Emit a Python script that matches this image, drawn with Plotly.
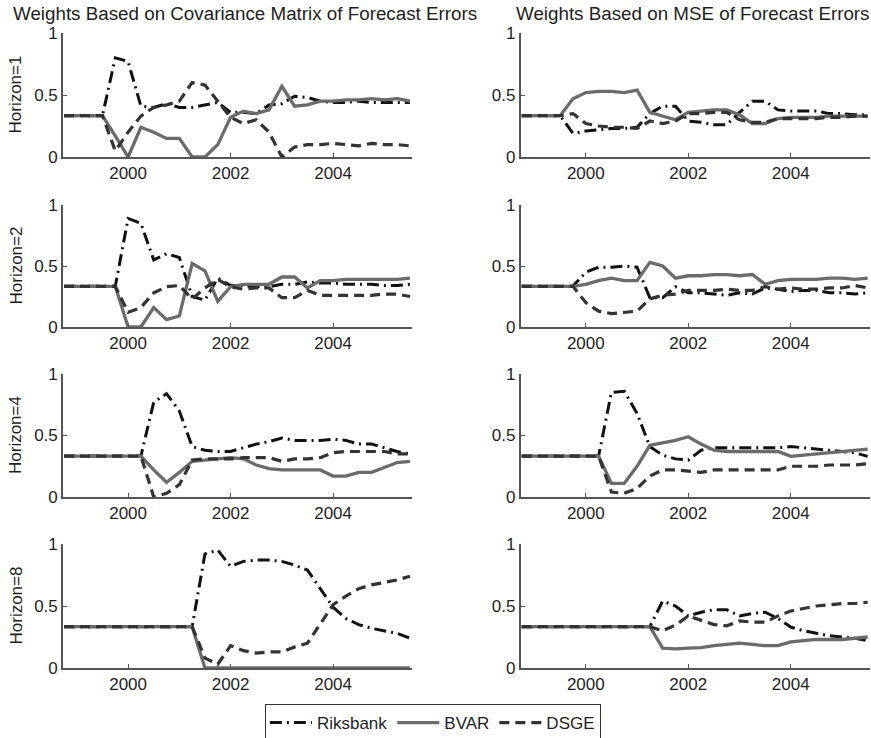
import plotly.graph_objects as go

# Quarterly dates (decimal years)
quarters = [1998.75, 1999.00, 1999.25, 1999.50, 1999.75, 2000.00, 2000.25,
            2000.50, 2000.75, 2001.00, 2001.25, 2001.50, 2001.75, 2002.00,
            2002.25, 2002.50, 2002.75, 2003.00, 2003.25, 2003.50, 2003.75,
            2004.00, 2004.25, 2004.50, 2004.75, 2005.00, 2005.25, 2005.50]

t = 0.333

# ---- Weights based on covariance matrix of forecast errors ----
cov_h1_riksbank = [t, t, t, t, 0.80, 0.77, 0.41, 0.40, 0.43, 0.40, 0.40, 0.42, 0.44, 0.36,
                   0.36, 0.35, 0.42, 0.43, 0.49, 0.48, 0.45, 0.44, 0.44, 0.45, 0.44, 0.44, 0.44, 0.44]
cov_h1_bvar = [t, t, t, t, 0.17, 0.00, 0.24, 0.20, 0.15, 0.15, 0.00, 0.00, 0.10, 0.32,
               0.37, 0.35, 0.38, 0.57, 0.41, 0.42, 0.45, 0.45, 0.46, 0.46, 0.47, 0.46, 0.47, 0.45]
cov_h1_dsge = [t, t, t, t, 0.05, 0.20, 0.33, 0.40, 0.42, 0.45, 0.60, 0.58, 0.45, 0.32,
               0.27, 0.30, 0.20, 0.00, 0.08, 0.10, 0.10, 0.11, 0.10, 0.09, 0.11, 0.10, 0.10, 0.09]

cov_h2_riksbank = [t, t, t, t, t, 0.89, 0.85, 0.55, 0.60, 0.57, 0.25, 0.22, 0.40, 0.34,
                   0.34, 0.33, 0.33, 0.35, 0.35, 0.37, 0.36, 0.36, 0.35, 0.35, 0.35, 0.34, 0.34, 0.35]
cov_h2_bvar = [t, t, t, t, t, 0.00, 0.00, 0.16, 0.06, 0.09, 0.52, 0.46, 0.21, 0.33,
               0.35, 0.35, 0.35, 0.41, 0.41, 0.32, 0.38, 0.38, 0.39, 0.39, 0.39, 0.39, 0.39, 0.40]
cov_h2_dsge = [t, t, t, t, t, 0.12, 0.16, 0.28, 0.33, 0.34, 0.23, 0.32, 0.39, 0.33,
               0.31, 0.32, 0.32, 0.24, 0.24, 0.30, 0.26, 0.26, 0.26, 0.26, 0.26, 0.27, 0.27, 0.25]

cov_h4_riksbank = [t, t, t, t, t, t, t, 0.77, 0.84, 0.70, 0.41, 0.38, 0.37, 0.37,
                   0.40, 0.43, 0.45, 0.48, 0.46, 0.46, 0.46, 0.47, 0.46, 0.43, 0.43, 0.40, 0.37, 0.35]
cov_h4_bvar = [t, t, t, t, t, t, t, 0.22, 0.12, 0.20, 0.29, 0.30, 0.31, 0.32,
               0.31, 0.26, 0.23, 0.22, 0.22, 0.22, 0.22, 0.17, 0.17, 0.20, 0.20, 0.24, 0.28, 0.29]
cov_h4_dsge = [t, t, t, t, t, t, t, 0.00, 0.03, 0.10, 0.30, 0.31, 0.31, 0.31,
               0.32, 0.32, 0.32, 0.29, 0.31, 0.31, 0.32, 0.36, 0.37, 0.37, 0.37, 0.37, 0.35, 0.35]

cov_h8_riksbank = [t, t, t, t, t, t, t, t, t, t, t, 0.92, 0.95, 0.82,
                   0.86, 0.87, 0.87, 0.86, 0.83, 0.79, 0.64, 0.49, 0.40, 0.35, 0.32, 0.30, 0.28, 0.24]
cov_h8_bvar = [t, t, t, t, t, t, t, t, t, t, t, 0.00, 0.00, 0.00,
               0.00, 0.00, 0.00, 0.00, 0.00, 0.00, 0.00, 0.00, 0.00, 0.00, 0.00, 0.00, 0.00, 0.00]
cov_h8_dsge = [t, t, t, t, t, t, t, t, t, t, t, 0.08, 0.03, 0.18,
               0.14, 0.12, 0.13, 0.13, 0.17, 0.20, 0.35, 0.51, 0.58, 0.64, 0.67, 0.69, 0.71, 0.74]

# ---- Weights based on MSE of forecast errors ----
mse_h1_riksbank = [t, t, t, t, 0.19, 0.21, 0.22, 0.23, 0.23, 0.24, 0.35, 0.41, 0.41, 0.29,
                   0.28, 0.26, 0.26, 0.36, 0.45, 0.45, 0.38, 0.37, 0.37, 0.37, 0.35, 0.35, 0.34, 0.34]
mse_h1_bvar = [t, t, t, t, 0.47, 0.52, 0.53, 0.53, 0.52, 0.54, 0.36, 0.33, 0.30, 0.36,
               0.37, 0.38, 0.38, 0.34, 0.27, 0.27, 0.31, 0.32, 0.32, 0.32, 0.33, 0.33, 0.33, 0.33]
mse_h1_dsge = [t, t, t, t, 0.35, 0.27, 0.25, 0.24, 0.24, 0.23, 0.29, 0.27, 0.29, 0.35,
               0.35, 0.36, 0.36, 0.30, 0.28, 0.28, 0.31, 0.31, 0.31, 0.31, 0.32, 0.32, 0.33, 0.33]

mse_h2_riksbank = [t, t, t, t, t, 0.45, 0.49, 0.49, 0.50, 0.49, 0.24, 0.24, 0.33, 0.28,
                   0.28, 0.27, 0.26, 0.28, 0.27, 0.32, 0.31, 0.29, 0.30, 0.30, 0.28, 0.28, 0.27, 0.28]
mse_h2_bvar = [t, t, t, t, t, 0.35, 0.38, 0.40, 0.38, 0.38, 0.53, 0.50, 0.40, 0.42,
               0.42, 0.43, 0.43, 0.42, 0.43, 0.35, 0.38, 0.39, 0.39, 0.39, 0.40, 0.40, 0.39, 0.40]
mse_h2_dsge = [t, t, t, t, t, 0.20, 0.13, 0.11, 0.12, 0.13, 0.23, 0.26, 0.27, 0.30,
               0.30, 0.30, 0.31, 0.30, 0.30, 0.33, 0.31, 0.32, 0.31, 0.31, 0.32, 0.32, 0.34, 0.32]

mse_h4_riksbank = [t, t, t, t, t, t, t, 0.85, 0.86, 0.68, 0.41, 0.34, 0.31, 0.30,
                   0.38, 0.40, 0.40, 0.40, 0.40, 0.40, 0.40, 0.41, 0.40, 0.39, 0.38, 0.37, 0.36, 0.33]
mse_h4_bvar = [t, t, t, t, t, t, t, 0.11, 0.11, 0.25, 0.42, 0.44, 0.46, 0.49,
               0.43, 0.38, 0.37, 0.37, 0.37, 0.37, 0.37, 0.33, 0.34, 0.35, 0.36, 0.37, 0.38, 0.39]
mse_h4_dsge = [t, t, t, t, t, t, t, 0.04, 0.03, 0.07, 0.17, 0.22, 0.22, 0.21,
               0.20, 0.22, 0.22, 0.22, 0.22, 0.22, 0.22, 0.25, 0.25, 0.25, 0.26, 0.26, 0.26, 0.27]

mse_h8_riksbank = [t, t, t, t, t, t, t, t, t, t, t, 0.54, 0.50, 0.42,
                   0.45, 0.47, 0.47, 0.42, 0.44, 0.45, 0.40, 0.33, 0.30, 0.28, 0.26, 0.25, 0.24, 0.22]
mse_h8_bvar = [t, t, t, t, t, t, t, t, t, t, t, 0.16, 0.155, 0.16,
               0.165, 0.18, 0.19, 0.20, 0.19, 0.18, 0.18, 0.21, 0.22, 0.23, 0.23, 0.23, 0.24, 0.25]
mse_h8_dsge = [t, t, t, t, t, t, t, t, t, t, t, 0.30, 0.345, 0.42,
               0.385, 0.35, 0.34, 0.38, 0.37, 0.37, 0.42, 0.46, 0.48, 0.50, 0.51, 0.52, 0.52, 0.53]

horizons = ["Horizon=1", "Horizon=2", "Horizon=4", "Horizon=8"]
column_titles = ["Weights Based on Covariance Matrix of Forecast Errors",
                 "Weights Based on MSE of Forecast Errors"]
x_ticks = [2000, 2002, 2004]
x_ticklabels = ["2000", "2002", "2004"]
y_ticks = [0, 0.5, 1]
y_ticklabels = ["0", "0.5", "1"]

panels = [
    (cov_h1_riksbank, cov_h1_bvar, cov_h1_dsge), (mse_h1_riksbank, mse_h1_bvar, mse_h1_dsge),
    (cov_h2_riksbank, cov_h2_bvar, cov_h2_dsge), (mse_h2_riksbank, mse_h2_bvar, mse_h2_dsge),
    (cov_h4_riksbank, cov_h4_bvar, cov_h4_dsge), (mse_h4_riksbank, mse_h4_bvar, mse_h4_dsge),
    (cov_h8_riksbank, cov_h8_bvar, cov_h8_dsge), (mse_h8_riksbank, mse_h8_bvar, mse_h8_dsge),
]

series_names = ["Riksbank", "BVAR", "DSGE"]
series_styles = [
    dict(color="#111111", width=3.0, dash="12px,5px,2px,5px"),
    dict(color="#6b6b6b", width=3.3, dash="solid"),
    dict(color="#333333", width=3.2, dash="10px,6px"),
]

W, H = 871, 738
FONT = "Liberation Sans, Arial, Helvetica, sans-serif"
TEXT = "#1e1e1e"
AXIS = "#555555"

# panel geometry in pixels
col_x = [(63, 412), (520.7, 869.7)]
row_y = [(33, 157), (205, 327), (374, 497), (544, 668)]
x_range = [1998.73, 2005.54]

fig = go.Figure()
layout = dict(
    template="none",
    width=W, height=H, autosize=False,
    margin=dict(l=0, r=0, t=0, b=0, pad=0, autoexpand=False),
    paper_bgcolor="white", plot_bgcolor="white",
    font=dict(family=FONT, size=17, color=TEXT),
    showlegend=True,
    legend=dict(orientation="h", x=0.497, xanchor="center", y=1 - 704 / H, yanchor="top",
                bordercolor="#333333", borderwidth=1, bgcolor="white",
                font=dict(family=FONT, size=17, color=TEXT),
                itemwidth=42, tracegroupgap=0),
)

annotations = []
for k, series in enumerate(panels):
    r, c = divmod(k, 2)
    idx = k + 1
    xa = "x" if idx == 1 else f"x{idx}"
    ya = "y" if idx == 1 else f"y{idx}"
    for s, (name, vals, style) in enumerate(zip(series_names, series, series_styles)):
        fig.add_trace(go.Scatter(
            x=quarters, y=vals, mode="lines", name=name,
            line=style, xaxis=xa, yaxis=ya,
            showlegend=(k == 0), legendgroup=name,
        ))
    x0, x1 = col_x[c]
    y0, y1 = row_y[r]
    axis_common = dict(showline=True, linecolor=AXIS, linewidth=1.6, mirror=False,
                       ticks="inside", ticklen=4, tickwidth=1, tickcolor=AXIS,
                       showgrid=False, zeroline=False, fixedrange=True, automargin=False,
                       tickfont=dict(family=FONT, size=17, color=TEXT))
    layout["xaxis" if idx == 1 else f"xaxis{idx}"] = dict(
        domain=[x0 / W, x1 / W], range=x_range, anchor=ya,
        tickvals=x_ticks, ticktext=x_ticklabels, **axis_common)
    layout["yaxis" if idx == 1 else f"yaxis{idx}"] = dict(
        domain=[1 - y1 / H, 1 - y0 / H], range=[0, 1], anchor=xa,
        tickvals=y_ticks, ticktext=y_ticklabels, **axis_common)
    if c == 0:
        annotations.append(dict(
            text=horizons[r], textangle=-90, xref="paper", yref="paper",
            x=15.5 / W, y=1 - (y0 + y1) / 2 / H, xanchor="center", yanchor="middle",
            showarrow=False, font=dict(family=FONT, size=17, color=TEXT)))

for c, title in enumerate(column_titles):
    cx = [245, 693][c]
    annotations.append(dict(
        text=title, xref="paper", yref="paper", x=cx / W, y=1 - 14 / H,
        xanchor="center", yanchor="middle", showarrow=False,
        font=dict(family=FONT, size=18.8, color=TEXT)))

layout["annotations"] = annotations
fig.update_layout(**layout)
fig.write_html("out.html")
